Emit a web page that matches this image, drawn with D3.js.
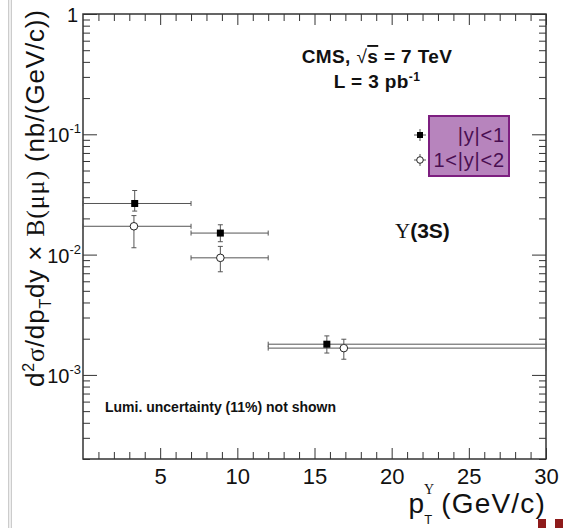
<!DOCTYPE html>
<html>
<head>
<meta charset="utf-8">
<script src="https://cdn.jsdelivr.net/npm/d3@7"></script>
<style>
  body { margin: 0; background: #fff; }
  svg { display: block; font-family: "Liberation Sans", Arial, sans-serif; }
</style>
</head>
<body>
<div class="chart"></div>
<script>
// pT bins (GeV/c)
var ptLow  = [0, 7, 12];
var ptHigh = [7, 12, 30];

// |y| < 1  (filled squares)
var cenX   = [3.35, 8.9, 15.8];
var cenY   = [0.0266, 0.0151, 0.00180];
var cenHi  = [0.0341, 0.0177, 0.00211];
var cenLo  = [0.0230, 0.0128, 0.00152];

// 1 < |y| < 2  (open circles)
var fwdX   = [3.3, 8.9, 16.9];
var fwdY   = [0.0172, 0.0094, 0.00167];
var fwdHi  = [0.0211, 0.0117, 0.00198];
var fwdLo  = [0.0114, 0.0072, 0.00135];

var xMajor = [5, 10, 15, 20, 25, 30];
var yMajor = [1, 0.1, 0.01, 0.001];
var yMajorExp = ["", "-1", "-2", "-3"];

//Width and height
var w = 565;
var h = 528;
var pLeft = 83, pRight = 546, pTop = 14, pBottom = 459;

var svg = d3.select(".chart")
            .append("svg")
            .attr("width", w)
            .attr("height", h);

// slide border on the left
svg.append("rect")
   .attr("x", 8.5).attr("y", -2).attr("width", 3).attr("height", h + 4)
   .attr("fill", "#eee").attr("stroke", "#ccc").attr("stroke-width", 1);

var x = d3.scaleLinear().domain([0, 30]).range([pLeft, pRight]);
var y = d3.scaleLog().domain([2e-4, 1]).range([pBottom, pTop]);

// minor ticks
var xMinor = d3.range(1, 30).filter(function(v) { return v % 5 != 0; });
var yMinor = [];
[-4, -3, -2, -1].forEach(function(e) {
  for (var k = 2; k <= 9; k++) {
    var v = k * Math.pow(10, e);
    if (v >= 2e-4 && v < 1) yMinor.push(v);
  }
});

function drawAxis(g) {
  g.selectAll(".domain").remove();
  g.selectAll("line").attr("stroke", "#333").attr("stroke-width", 1);
}

// bottom axis
svg.append("g").attr("transform", "translate(0," + pBottom + ")")
   .call(d3.axisBottom(x).tickValues(xMinor).tickSize(-7).tickFormat(""))
   .call(drawAxis);
svg.append("g").attr("transform", "translate(0," + pBottom + ")")
   .call(d3.axisBottom(x).tickValues(xMajor).tickSize(-11).tickPadding(9).tickFormat(d3.format("d")))
   .call(drawAxis)
   .selectAll("text")
   .attr("font-size", 22).attr("fill", "#111").attr("font-family", "Liberation Sans, Arial, sans-serif");

// top axis
svg.append("g").attr("transform", "translate(0," + pTop + ")")
   .call(d3.axisTop(x).tickValues(xMinor).tickSize(-7).tickFormat(""))
   .call(drawAxis);
svg.append("g").attr("transform", "translate(0," + pTop + ")")
   .call(d3.axisTop(x).tickValues(xMajor).tickSize(-11).tickFormat(""))
   .call(drawAxis);

// left axis
svg.append("g").attr("transform", "translate(" + pLeft + ",0)")
   .call(d3.axisLeft(y).tickValues(yMinor).tickSize(-7).tickFormat(""))
   .call(drawAxis);
svg.append("g").attr("transform", "translate(" + pLeft + ",0)")
   .call(d3.axisLeft(y).tickValues(yMajor).tickSize(-14).tickFormat(""))
   .call(drawAxis);

// right axis
svg.append("g").attr("transform", "translate(" + pRight + ",0)")
   .call(d3.axisRight(y).tickValues(yMinor).tickSize(-7).tickFormat(""))
   .call(drawAxis);
svg.append("g").attr("transform", "translate(" + pRight + ",0)")
   .call(d3.axisRight(y).tickValues(yMajor).tickSize(-14).tickFormat(""))
   .call(drawAxis);

// y tick labels with exponents
var yLab = svg.append("g").selectAll("text")
   .data(yMajor)
   .enter()
   .append("text")
   .attr("y", function(d) { return y(d) + 8; })
   .attr("text-anchor", "end")
   .attr("font-size", 20)
   .attr("fill", "#111");
yLab.each(function(d, i) {
  var t = d3.select(this);
  if (yMajorExp[i] == "") {
    t.attr("x", 78).text("1");
  } else {
    t.attr("x", 81);
    t.append("tspan").text("10");
    t.append("tspan").attr("dy", -9).attr("font-size", 13).text(yMajorExp[i]);
  }
});

// frame
svg.append("rect")
   .attr("x", pLeft).attr("y", pTop)
   .attr("width", pRight - pLeft).attr("height", pBottom - pTop)
   .attr("fill", "none").attr("stroke", "#333").attr("stroke-width", 1.5);

// error bars
var barColor = "#555";
function drawSeries(px, py, hi, lo, cls) {
  var g = svg.append("g").attr("class", cls);
  var idx = d3.range(px.length);
  // horizontal bin width
  g.selectAll(".hbar").data(idx).enter().append("line")
   .attr("x1", function(i) { return x(ptLow[i]); })
   .attr("x2", function(i) { return x(ptHigh[i]); })
   .attr("y1", function(i) { return y(py[i]); })
   .attr("y2", function(i) { return y(py[i]); })
   .attr("stroke", barColor).attr("stroke-width", 1);
  [ptLow, ptHigh].forEach(function(arr) {
    g.selectAll(null).data(idx).enter().append("line")
     .attr("x1", function(i) { return x(arr[i]); })
     .attr("x2", function(i) { return x(arr[i]); })
     .attr("y1", function(i) { return y(py[i]) - 2.5; })
     .attr("y2", function(i) { return y(py[i]) + 2.5; })
     .attr("stroke", barColor).attr("stroke-width", 1);
  });
  // vertical errors
  g.selectAll(".vbar").data(idx).enter().append("line")
   .attr("x1", function(i) { return x(px[i]); })
   .attr("x2", function(i) { return x(px[i]); })
   .attr("y1", function(i) { return y(hi[i]); })
   .attr("y2", function(i) { return y(lo[i]); })
   .attr("stroke", barColor).attr("stroke-width", 1);
  [hi, lo].forEach(function(arr) {
    g.selectAll(null).data(idx).enter().append("line")
     .attr("x1", function(i) { return x(px[i]) - 2.5; })
     .attr("x2", function(i) { return x(px[i]) + 2.5; })
     .attr("y1", function(i) { return y(arr[i]); })
     .attr("y2", function(i) { return y(arr[i]); })
     .attr("stroke", barColor).attr("stroke-width", 1);
  });
  return g;
}

var gFwd = drawSeries(fwdX, fwdY, fwdHi, fwdLo, "fwd");
gFwd.selectAll("circle").data(d3.range(fwdX.length)).enter().append("circle")
    .attr("cx", function(i) { return x(fwdX[i]); })
    .attr("cy", function(i) { return y(fwdY[i]); })
    .attr("r", 3.8)
    .attr("fill", "#fff").attr("stroke", "#222").attr("stroke-width", 1);

var gCen = drawSeries(cenX, cenY, cenHi, cenLo, "cen");
gCen.selectAll("rect").data(d3.range(cenX.length)).enter().append("rect")
    .attr("x", function(i) { return x(cenX[i]) - 3.5; })
    .attr("y", function(i) { return y(cenY[i]) - 3.5; })
    .attr("width", 7).attr("height", 7)
    .attr("fill", "#000");

// legend
svg.append("rect")
   .attr("x", 429).attr("y", 116).attr("width", 80).attr("height", 60)
   .attr("fill", "#b784bd").attr("stroke", "#7d1f80").attr("stroke-width", 2);
var legY = [135, 160];
var legText = ["|y|<1", "1<|y|<2"];
legY.forEach(function(ly, i) {
  svg.append("line").attr("x1", 414).attr("x2", 426).attr("y1", ly).attr("y2", ly)
     .attr("stroke", barColor);
  svg.append("line").attr("x1", 420).attr("x2", 420).attr("y1", ly - 6).attr("y2", ly + 6)
     .attr("stroke", barColor);
  if (i == 0) {
    svg.append("rect").attr("x", 417).attr("y", ly - 3).attr("width", 6).attr("height", 6).attr("fill", "#000");
  } else {
    svg.append("circle").attr("cx", 420).attr("cy", ly).attr("r", 3.3)
       .attr("fill", "#fff").attr("stroke", "#222");
  }
  svg.append("text").attr("x", 505).attr("y", ly + 7)
     .attr("text-anchor", "end").attr("font-size", 20).attr("letter-spacing", 0.8)
     .attr("fill", "#4a0f52")
     .text(legText[i]);
});

// annotations
var cms = svg.append("text").attr("x", 377).attr("y", 63)
   .attr("text-anchor", "middle").attr("font-size", 19).attr("letter-spacing", 0.4)
   .attr("font-weight", "bold").attr("fill", "#111");
cms.append("tspan").text("CMS, ");
cms.append("tspan").attr("font-weight", "normal").text("\u221A");
cms.append("tspan").attr("text-decoration", "overline").text("s");
cms.append("tspan").text(" = 7 TeV");

var lum = svg.append("text").attr("x", 377).attr("y", 88)
   .attr("text-anchor", "middle").attr("font-size", 19).attr("letter-spacing", 0.4)
   .attr("font-weight", "bold").attr("fill", "#111");
lum.append("tspan").text("L = 3 pb");
lum.append("tspan").attr("dy", -7).attr("font-size", 12).text("-1");

var ups = svg.append("text").attr("x", 395).attr("y", 238)
   .attr("font-size", 21).attr("fill", "#111");
ups.append("tspan").attr("font-family", "Liberation Serif, serif").text("\u03A5");
ups.append("tspan").attr("font-weight", "bold").text("(3S)");

svg.append("text").attr("x", 105).attr("y", 412)
   .attr("font-size", 14).attr("font-weight", "bold").attr("fill", "#111")
   .text("Lumi. uncertainty (11%) not shown");

// x axis title
var xt = svg.append("text").attr("x", pRight).attr("y", 513)
   .attr("text-anchor", "end").attr("font-size", 28).attr("fill", "#111");
xt.append("tspan").text("p");
xt.append("tspan").attr("dy", -19).attr("font-size", 14).attr("font-family", "Liberation Serif, serif").text("\u03A5");
xt.append("tspan").attr("dx", -10).attr("dy", 30).attr("font-size", 13).text("T");
xt.append("tspan").attr("dy", -11).attr("letter-spacing", 1.2).text(" (GeV/c)");

// y axis title
var yt = svg.append("text")
   .attr("transform", "translate(44,10) rotate(-90)")
   .attr("text-anchor", "end").attr("font-size", 26).attr("fill", "#111")
   .attr("textLength", 377).attr("lengthAdjust", "spacing");
yt.append("tspan").text("d");
yt.append("tspan").attr("dy", -10).attr("font-size", 16).text("2");
yt.append("tspan").attr("dy", 10).attr("font-family", "Liberation Serif, serif").text("\u03C3");
yt.append("tspan").text("/dp");
yt.append("tspan").attr("dy", 7).attr("font-size", 16).text("T");
yt.append("tspan").attr("dy", -7).text("dy \u00D7 ");
yt.append("tspan").attr("font-family", "Liberation Serif, serif").text("B(\u03BC\u03BC)");
yt.append("tspan").text(" (nb/(GeV/c))");

// corner marks
[538, 555].forEach(function(cx) {
  svg.append("rect").attr("x", cx).attr("y", 519).attr("width", 8).attr("height", 9).attr("fill", "#8e1b1b");
});
</script>
</body>
</html>
